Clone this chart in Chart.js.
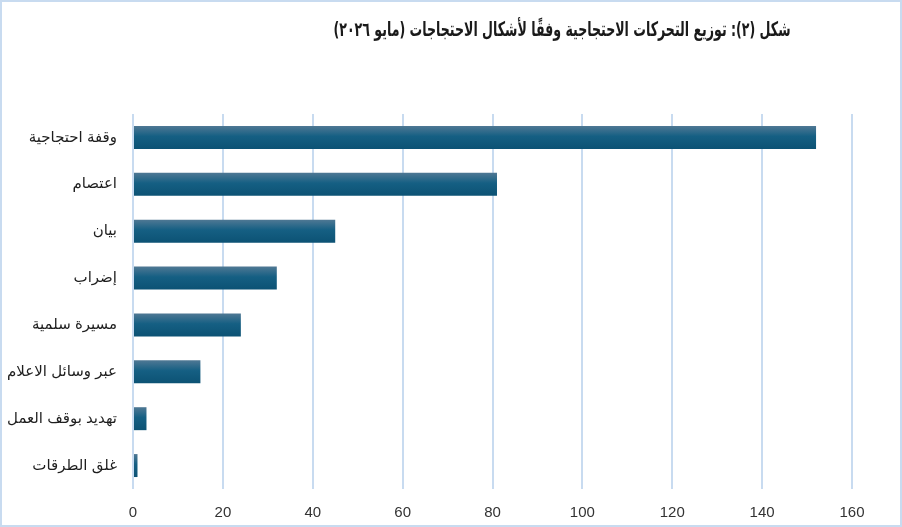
<!DOCTYPE html>
<html lang="ar">
<head>
<meta charset="utf-8">
<title>شكل (٢)</title>
<script src="https://cdn.jsdelivr.net/npm/chart.js@4.4.1/dist/chart.umd.min.js"></script>
<style>
  html, body { margin: 0; padding: 0; background: #fff; }
  #wrap {
    width: 902px; height: 527px; box-sizing: border-box;
    border: 2px solid #c8dbf0; background: #fff;
  }
  #wrap canvas { display: block; }
</style>
</head>
<body>
<div id="wrap"><canvas id="graph" width="898" height="523"></canvas></div>
<script>
var titleText = 'شكل (٢): توزيع التحركات الاحتجاجية وفقًا لأشكال الاحتجاجات (مايو ٢٠٢٦)';
var categories = ['وقفة احتجاجية', 'اعتصام', 'بيان', 'إضراب', 'مسيرة سلمية', 'عبر وسائل الاعلام', 'تهديد بوقف العمل', 'غلق الطرقات'];
var counts = [152, 81, 45, 32, 24, 15, 3, 1];
var xTicks = [0, 20, 40, 60, 80, 100, 120, 140, 160];

var fontFamily = '"Liberation Sans", Arial, "DejaVu Sans", sans-serif';
var gridColor = '#c8dbf0';

// bar fill: lighter at the top edge, deep teal blue below
function barFill(context) {
  var chart = context.chart;
  if (!chart.chartArea || context.dataIndex === undefined) return '#0f5c80';
  var y = chart.scales.y.getPixelForValue(context.dataIndex);
  var h = 23;
  var g = chart.ctx.createLinearGradient(0, y - h / 2, 0, y + h / 2);
  g.addColorStop(0, '#4f7894');
  g.addColorStop(0.45, '#155f83');
  g.addColorStop(1, '#0c5274');
  return g;
}

// title sits a bit right of centre, as in the source figure;
// the Arabic fallback font runs wide, so squeeze it to the original width
var titlePlugin = {
  id: 'rtlTitle',
  afterDraw: function (chart) {
    var ctx = chart.ctx;
    ctx.save();
    ctx.direction = 'rtl';
    ctx.textAlign = 'center';
    ctx.textBaseline = 'middle';
    ctx.fillStyle = '#1a1a1a';
    ctx.font = 'bold 20px "DejaVu Sans Condensed", "DejaVu Sans", sans-serif';
    var w = ctx.measureText(titleText).width;
    var k = Math.min(1, 457 / w);
    ctx.translate(560, 29);
    ctx.scale(k, 1);
    ctx.fillText(titleText, 0, 0);
    ctx.restore();
  }
};

var ctx = document.getElementById('graph').getContext('2d');
var chart = new Chart(ctx, {
  type: 'bar',
  data: {
    labels: categories,
    datasets: [{
      data: counts,
      backgroundColor: barFill,
      borderWidth: 0,
      categoryPercentage: 1,
      barPercentage: 0.49
    }]
  },
  options: {
    indexAxis: 'y',
    responsive: false,
    animation: false,
    layout: { padding: { top: 112, right: 48, left: 0, bottom: 0 } },
    plugins: {
      legend: { display: false },
      tooltip: { enabled: false },
      title: { display: false }
    },
    scales: {
      x: {
        min: 0,
        max: 160,
        afterBuildTicks: function (scale) {
          scale.ticks = xTicks.map(function (v) { return { value: v }; });
        },
        afterFit: function (scale) { scale.height = 36; },
        grid: { color: gridColor, lineWidth: 2, drawTicks: false },
        border: { display: false },
        ticks: {
          padding: 15,
          color: '#333',
          font: { family: fontFamily, size: 15 }
        }
      },
      y: {
        afterFit: function (scale) { scale.width = 131; },
        grid: { display: false, drawTicks: false },
        border: { display: false },
        ticks: {
          padding: 16,
          color: '#1e1e1e',
          font: { family: fontFamily, size: 15 }
        }
      }
    }
  },
  plugins: [titlePlugin]
});
</script>
</body>
</html>
